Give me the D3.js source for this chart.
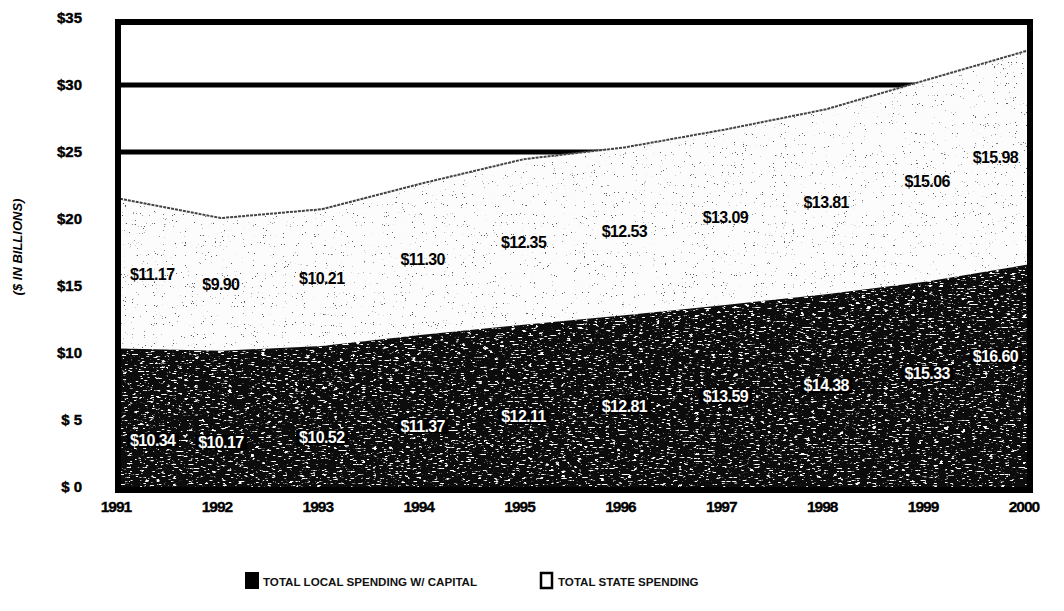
<!DOCTYPE html>
<html>
<head>
<meta charset="utf-8">
<script src="https://d3js.org/d3.v7.min.js"></script>
<style>
  body { margin: 0; background: #fff; }
  svg { display: block; }
  .tick-lbl { font-family: "Liberation Sans", Arial, sans-serif; font-weight: bold; font-size: 15px; fill: #000; stroke: #000; stroke-width: 0.4px; }
  .year-lbl { font-family: "Liberation Sans", Arial, sans-serif; font-weight: bold; font-size: 15.5px; letter-spacing: -1px; fill: #000; stroke: #000; stroke-width: 0.3px; }
  .val-lbl { font-family: "Liberation Sans", Arial, sans-serif; font-weight: bold; font-size: 16px; letter-spacing: -0.6px; }
  .legend-lbl { font-family: "Liberation Sans", Arial, sans-serif; font-weight: bold; font-size: 11.6px; fill: #111; }
</style>
</head>
<body>
<div id="chart"></div>
<script>
// data ($ in billions)
const years = [1991, 1992, 1993, 1994, 1995, 1996, 1997, 1998, 1999, 2000];
const localSpending = [10.34, 10.17, 10.52, 11.37, 12.11, 12.81, 13.59, 14.38, 15.33, 16.60];
const stateSpending = [11.17, 9.90, 10.21, 11.30, 12.35, 12.53, 13.09, 13.81, 15.06, 15.98];
const yTicks = [0, 5, 10, 15, 20, 25, 30, 35];
const yTickLabels = ["$ 0", "$ 5", "$10", "$15", "$20", "$25", "$30", "$35"];
const gridValues = [25, 30];
const legendLabels = ["TOTAL LOCAL SPENDING W/ CAPITAL", "TOTAL STATE SPENDING"];

const width = 1064, height = 611;

const svg = d3.select("#chart").append("svg")
  .attr("width", width)
  .attr("height", height);

const x = d3.scaleLinear().domain([1991, 2000]).range([120, 1028]);
const y = d3.scaleLinear().domain([0, 35]).range([487, 18]);

const rows = years.map((yr, i) => ({ year: yr, local: localSpending[i], state: stateSpending[i] }));
const stack = d3.stack().keys(["local", "state"]);
const series = stack(rows);

// textures: speckle filters (deterministic noise)
const defs = svg.append("defs");
const darkTex = defs.append("filter").attr("id", "darkTex")
  .attr("x", 0).attr("y", 0).attr("width", 1).attr("height", 1);
darkTex.append("feTurbulence")
  .attr("type", "fractalNoise").attr("baseFrequency", "0.18 0.7")
  .attr("numOctaves", 3).attr("seed", 4).attr("result", "noise");
darkTex.append("feColorMatrix").attr("in", "noise").attr("type", "matrix")
  .attr("values", "0 0 0 0 1  0 0 0 0 1  0 0 0 0 1  10 0 0 0 -6.1")
  .attr("result", "specks");
darkTex.append("feComposite").attr("in", "specks").attr("in2", "SourceAlpha").attr("operator", "in");

const lightTex = defs.append("filter").attr("id", "lightTex")
  .attr("x", 0).attr("y", 0).attr("width", 1).attr("height", 1);
lightTex.append("feTurbulence")
  .attr("type", "fractalNoise").attr("baseFrequency", "0.9 0.9")
  .attr("numOctaves", 2).attr("seed", 11).attr("result", "noise");
lightTex.append("feColorMatrix").attr("in", "noise").attr("type", "matrix")
  .attr("values", "0 0 0 0 0.1  0 0 0 0 0.1  0 0 0 0 0.1  18 0 0 0 -13.2")
  .attr("result", "specks");
lightTex.append("feComposite").attr("in", "specks").attr("in2", "SourceAlpha").attr("operator", "in");

// gridlines (behind areas)
svg.append("g").selectAll("line")
  .data(gridValues)
  .join("line")
    .attr("x1", x(1991)).attr("x2", x(2000))
    .attr("y1", d => y(d)).attr("y2", d => y(d))
    .attr("stroke", "#000").attr("stroke-width", 5);

const area = d3.area()
  .x(d => x(d.data.year))
  .y0(d => y(d[0]))
  .y1(d => y(d[1]));

// state band (light stipple)
svg.append("path").datum(series[1])
  .attr("d", area).attr("fill", "#fcfcfc");
svg.append("path").datum(series[1])
  .attr("d", area).attr("fill", "#000").attr("filter", "url(#lightTex)");
svg.append("path").datum(series[1])
  .attr("d", d3.line().x(d => x(d.data.year)).y(d => y(d[1])))
  .attr("fill", "none").attr("stroke", "#444").attr("stroke-width", 2)
  .attr("stroke-dasharray", "3 1");

// local band (dark with white speckle)
svg.append("path").datum(series[0])
  .attr("d", area).attr("fill", "#0c0c0c");
svg.append("path").datum(series[0])
  .attr("d", area).attr("fill", "#000").attr("filter", "url(#darkTex)");

// frame
svg.append("rect")
  .attr("x", x(1991) - 2).attr("y", y(35) + 4)
  .attr("width", x(2000) - x(1991) + 4).attr("height", y(0) - y(35) - 1)
  .attr("fill", "none").attr("stroke", "#000").attr("stroke-width", 6);

// y tick labels
svg.append("g").selectAll("text")
  .data(yTicks)
  .join("text")
    .attr("class", "tick-lbl")
    .attr("x", 82)
    .attr("y", d => y(d) + 5)
    .attr("text-anchor", "end")
    .text((d, i) => yTickLabels[i]);

// y axis title
svg.append("text")
  .attr("transform", "translate(22, 247) rotate(-90)")
  .attr("text-anchor", "middle")
  .style("font-family", "Liberation Sans, Arial, sans-serif")
  .style("font-weight", "bold").style("font-style", "italic")
  .style("font-size", "13px")
  .text("($ IN BILLIONS)");

// year labels
svg.append("g").selectAll("text")
  .data(years)
  .join("text")
    .attr("class", "year-lbl")
    .attr("x", d => x(d) - 4)
    .attr("y", 512)
    .attr("text-anchor", "middle")
    .text(d => d);

function anchorFor(i) { return i === 0 ? "start" : (i === years.length - 1 ? "end" : "middle"); }
function xFor(d, i) { return i === 0 ? x(d.year) + 10 : (i === years.length - 1 ? x(d.year) - 10 : x(d.year)); }

// state value labels
svg.append("g").selectAll("text")
  .data(rows)
  .join("text")
    .attr("class", "val-lbl")
    .attr("fill", "#000")
    .attr("x", xFor)
    .attr("y", d => y(d.local + d.state / 2) + 6)
    .attr("text-anchor", (d, i) => anchorFor(i))
    .text(d => "$" + d.state.toFixed(2));

// local value labels (white on black box)
const locG = svg.append("g");
const locLbl = locG.selectAll("g")
  .data(rows)
  .join("g");
locLbl.append("rect").attr("fill", "#000");
locLbl.append("text")
  .attr("class", "val-lbl")
  .attr("fill", "#fff")
  .attr("x", xFor)
  .attr("y", d => y(d.local - 6.8) + 6)
  .attr("text-anchor", (d, i) => anchorFor(i))
  .text(d => "$" + d.local.toFixed(2));
locLbl.each(function () {
  const b = d3.select(this).select("text").node().getBBox();
  d3.select(this).select("rect")
    .attr("x", b.x - 3).attr("y", b.y + 1)
    .attr("width", b.width + 6).attr("height", b.height - 2);
});

// legend
const legend = svg.append("g");
legend.append("rect")
  .attr("x", 245).attr("y", 572).attr("width", 14).attr("height", 17)
  .attr("fill", "#000");
legend.append("text").attr("class", "legend-lbl")
  .attr("x", 263).attr("y", 586).text(legendLabels[0]);
legend.append("rect")
  .attr("x", 541).attr("y", 573).attr("width", 11).attr("height", 15)
  .attr("fill", "#fff").attr("stroke", "#000").attr("stroke-width", 2.5);
legend.append("text").attr("class", "legend-lbl")
  .attr("x", 558).attr("y", 586).text(legendLabels[1]);
</script>
</body>
</html>
